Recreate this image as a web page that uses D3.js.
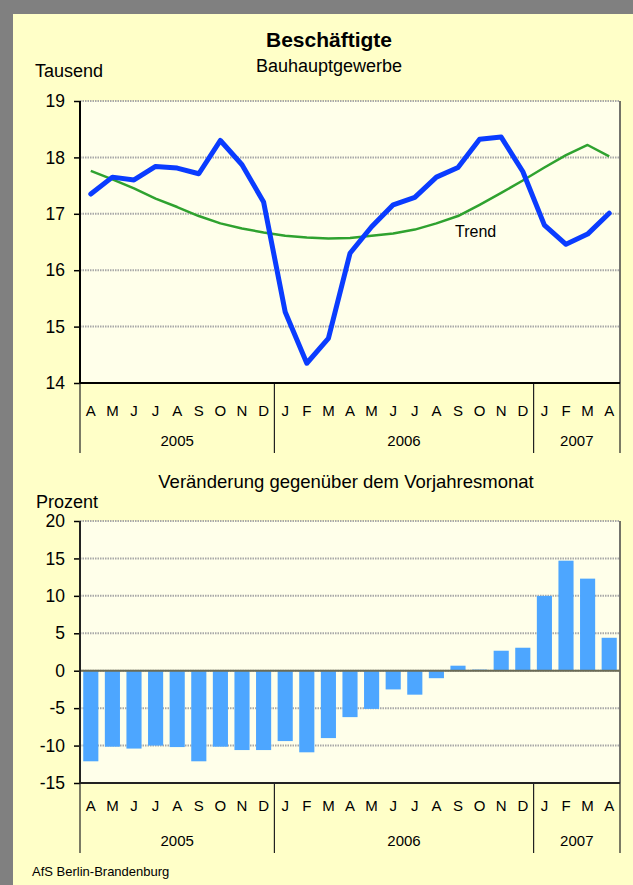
<!DOCTYPE html>
<html>
<head>
<meta charset="utf-8">
<script src="https://cdn.jsdelivr.net/npm/d3@7"></script>
<style>
  body { margin: 0; background: #808080; }
  text { font-family: "Liberation Sans", Arial, sans-serif; fill: #000; }
</style>
</head>
<body>
<svg id="chart" width="633" height="885"></svg>
<script>
// month letters from April 2005 to April 2007
var monthLabels = ["A","M","J","J","A","S","O","N","D",
                   "J","F","M","A","M","J","J","A","S","O","N","D",
                   "J","F","M","A"];
var yearLabels = ["2005", "2006", "2007"];
var yearMonths = [9, 12, 4];

// Beschäftigte, Tausend
var employed = [17.35, 17.65, 17.60, 17.84, 17.81, 17.71, 18.30, 17.87, 17.21,
                15.26, 14.35, 14.79, 16.30, 16.77, 17.16, 17.29, 17.65, 17.82, 18.32, 18.36, 17.75,
                16.80, 16.46, 16.64, 17.01];
var trend = [17.76, 17.61, 17.45, 17.27, 17.12, 16.96, 16.83, 16.74, 16.67,
             16.61, 16.58, 16.56, 16.57, 16.61, 16.65, 16.72, 16.83, 16.96, 17.16, 17.37, 17.59,
             17.82, 18.04, 18.22, 18.02];
// Veränderung gegenüber dem Vorjahresmonat, Prozent
var change = [-12.1, -10.15, -10.4, -10.0, -10.2, -12.1, -10.15, -10.6, -10.6,
              -9.4, -10.9, -9.0, -6.2, -5.1, -2.5, -3.2, -1.0, 0.67, 0.15, 2.67, 3.07,
              10.0, 14.7, 12.3, 4.4];

var topTicks = [14, 15, 16, 17, 18, 19];
var bottomTicks = [-15, -10, -5, 0, 5, 10, 15, 20];

var svg = d3.select("#chart");
var left = 80, right = 620;

// panel
svg.append("rect").attr("x", 13).attr("y", 14).attr("width", 620).attr("height", 871).attr("fill", "#FFFFC8");

var idx = d3.range(monthLabels.length);
var x = d3.scaleBand().domain(idx).range([left, right]).paddingInner(0.3).paddingOuter(0.15);
var step = x.step();
function cx(i) { return x(i) + x.bandwidth() / 2; }

// titles
svg.append("text").attr("x", 329).attr("y", 47).attr("text-anchor", "middle")
  .style("font-size", "21px").style("font-weight", "bold").text("Beschäftigte");
svg.append("text").attr("x", 329).attr("y", 72).attr("text-anchor", "middle")
  .style("font-size", "18px").text("Bauhauptgewerbe");
svg.append("text").attr("x", 35).attr("y", 77).style("font-size", "18px").text("Tausend");
svg.append("text").attr("x", 346).attr("y", 488).attr("text-anchor", "middle")
  .style("font-size", "18.5px").text("Veränderung gegenüber dem Vorjahresmonat");
svg.append("text").attr("x", 36).attr("y", 508).style("font-size", "18px").text("Prozent");
svg.append("text").attr("x", 32).attr("y", 876).style("font-size", "13px").text("AfS Berlin-Brandenburg");

function drawFrame(y, ticks, top, bottom, labelY, yearY, divBottom) {
  svg.append("rect").attr("x", left).attr("y", top).attr("width", right - left)
    .attr("height", bottom - top).attr("fill", "#FFFFEA");

  // gridlines
  svg.append("g").selectAll("line").data(ticks.filter(function(t) { return y(t) < bottom - 1; }))
    .enter().append("line")
    .attr("x1", left).attr("x2", right)
    .attr("y1", function(d) { return y(d); }).attr("y2", function(d) { return y(d); })
    .attr("stroke", "#A8A8A8").attr("stroke-width", 2).attr("stroke-dasharray", "1.5,1");

  // y axis
  var ax = svg.append("g").attr("transform", "translate(" + left + ",0)")
    .call(d3.axisLeft(y).tickValues(ticks).tickSize(6).tickPadding(9)
      .tickFormat(function(d) { return String(d); }));
  ax.select(".domain").remove();
  ax.selectAll("line").attr("stroke", "#000").attr("stroke-width", 1.5);
  ax.selectAll("text").style("font-size", "17.5px").style("font-family", "Liberation Sans, Arial, sans-serif");

  // right border
  svg.append("line").attr("x1", right).attr("x2", right).attr("y1", top).attr("y2", bottom)
    .attr("stroke", "#444").attr("stroke-width", 1.5);

  // month labels
  svg.append("g").selectAll("text").data(idx).enter().append("text")
    .attr("x", function(i) { return cx(i); }).attr("y", labelY)
    .attr("text-anchor", "middle").style("font-size", "15px")
    .text(function(i) { return monthLabels[i]; });

  // year labels and dividers
  var start = 0;
  var bounds = [0];
  yearLabels.forEach(function(lab, k) {
    var a = left + start * step, b = left + (start + yearMonths[k]) * step;
    svg.append("text").attr("x", (a + b) / 2).attr("y", yearY).attr("text-anchor", "middle")
      .style("font-size", "15px").text(lab);
    start += yearMonths[k];
    bounds.push(start);
  });
  svg.append("g").selectAll("line").data(bounds).enter().append("line")
    .attr("x1", function(b) { return left + b * step; }).attr("x2", function(b) { return left + b * step; })
    .attr("y1", bottom).attr("y2", divBottom)
    .attr("stroke", "#222").attr("stroke-width", 1.2);
}

// ---- top chart
var y1 = d3.scaleLinear().domain([14, 19]).range([383, 101]);
drawFrame(y1, topTicks, 101, 383, 416, 446, 453);

svg.append("path").datum(trend)
  .attr("fill", "none").attr("stroke", "#2FA22F").attr("stroke-width", 2.5)
  .attr("stroke-linejoin", "round")
  .attr("d", d3.line().x(function(d, i) { return cx(i); }).y(function(d) { return y1(d); }));

svg.append("path").datum(employed)
  .attr("fill", "none").attr("stroke", "#0A3CFF").attr("stroke-width", 5)
  .attr("stroke-linejoin", "round").attr("stroke-linecap", "round")
  .attr("d", d3.line().x(function(d, i) { return cx(i); }).y(function(d) { return y1(d); }));

svg.append("text").attr("x", 455).attr("y", 237).style("font-size", "16px").text("Trend");

svg.append("line").attr("x1", left).attr("x2", right).attr("y1", 383).attr("y2", 383)
  .attr("stroke", "#000").attr("stroke-width", 2);
svg.append("line").attr("x1", left).attr("x2", left).attr("y1", 101).attr("y2", 383)
  .attr("stroke", "#000").attr("stroke-width", 2);

// ---- bottom chart
var y2 = d3.scaleLinear().domain([-15, 20]).range([783, 521]);
drawFrame(y2, bottomTicks, 521, 783, 811, 846, 853);

svg.append("g").selectAll("rect").data(change).enter().append("rect")
  .attr("x", function(d, i) { return x(i); })
  .attr("width", x.bandwidth())
  .attr("y", function(d) { return y2(Math.max(0, d)); })
  .attr("height", function(d) { return Math.abs(y2(d) - y2(0)); })
  .attr("fill", "#4DA6FF");

svg.append("line").attr("x1", left).attr("x2", right).attr("y1", y2(0)).attr("y2", y2(0))
  .attr("stroke", "#6B6B55").attr("stroke-width", 2);
svg.append("line").attr("x1", left).attr("x2", right).attr("y1", 783).attr("y2", 783)
  .attr("stroke", "#222").attr("stroke-width", 2);
svg.append("line").attr("x1", left).attr("x2", left).attr("y1", 521).attr("y2", 783)
  .attr("stroke", "#222").attr("stroke-width", 2);
</script>
</body>
</html>
